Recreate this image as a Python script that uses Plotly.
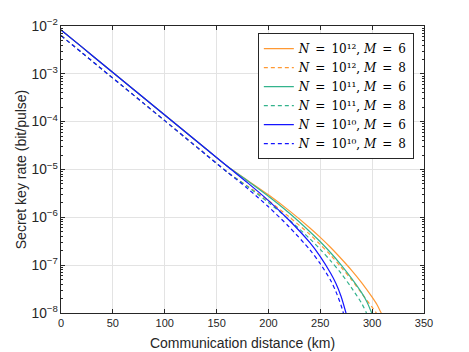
import plotly.graph_objects as go

# distances (km) and secret key rates (bit/pulse)
dist_n12_m6 = [0, 20, 40, 60, 80, 100, 120, 140, 160, 180, 200, 220, 240, 250, 260, 270, 280, 290, 300, 305, 308, 310]
rate_n12_m6 = [8.3e-3, 3.66e-3, 1.61e-3, 7.11e-4, 3.13e-4, 1.38e-4, 6.08e-5, 2.68e-5, 1.18e-5,
               5.9e-6, 2.95e-6, 1.38e-6, 6.0e-7, 3.8e-7, 2.34e-7, 1.38e-7, 7.9e-8, 4.27e-8, 2.14e-8, 1.45e-8, 1.07e-8, 8.9e-9]

dist_n12_m8 = [0, 20, 40, 60, 80, 100, 120, 140, 160, 180, 200, 220, 240, 250, 260, 270, 280, 290, 300, 304, 306]
rate_n12_m8 = [6.31e-3, 2.78e-3, 1.22e-3, 5.40e-4, 2.38e-4, 1.05e-4, 4.61e-5, 2.03e-5, 8.95e-6,
               4.47e-6, 2.24e-6, 1.02e-6, 4.37e-7, 2.69e-7, 1.62e-7, 9.1e-8, 5.0e-8, 2.57e-8, 1.32e-8, 1.0e-8, 8.3e-9]

dist_n11_m6 = [0, 20, 40, 60, 80, 100, 120, 140, 160, 180, 200, 220, 240, 250, 260, 270, 280, 290, 295, 299, 301]
rate_n11_m6 = [8.3e-3, 3.66e-3, 1.61e-3, 7.11e-4, 3.13e-4, 1.38e-4, 6.08e-5, 2.68e-5, 1.18e-5,
               5.75e-6, 2.75e-6, 1.23e-6, 5.0e-7, 3.09e-7, 1.82e-7, 1.02e-7, 5.37e-8, 2.63e-8, 1.70e-8, 1.07e-8, 8.3e-9]

dist_n11_m8 = [0, 20, 40, 60, 80, 100, 120, 140, 160, 180, 200, 220, 240, 250, 260, 270, 280, 290, 294.5, 296]
rate_n11_m8 = [6.31e-3, 2.78e-3, 1.22e-3, 5.40e-4, 2.38e-4, 1.05e-4, 4.61e-5, 2.03e-5, 8.95e-6,
               4.37e-6, 2.04e-6, 8.9e-7, 3.55e-7, 2.14e-7, 1.23e-7, 6.76e-8, 3.39e-8, 1.58e-8, 1.0e-8, 8.3e-9]

dist_n10_m6 = [0, 20, 40, 60, 80, 100, 120, 140, 160, 180, 200, 220, 240, 250, 260, 265, 270, 274.5, 276]
rate_n10_m6 = [8.3e-3, 3.66e-3, 1.61e-3, 7.11e-4, 3.13e-4, 1.38e-4, 6.08e-5, 2.68e-5, 1.18e-5,
               5.25e-6, 2.24e-6, 8.7e-7, 2.95e-7, 1.51e-7, 6.76e-8, 4.17e-8, 2.24e-8, 1.05e-8, 7.9e-9]

dist_n10_m8 = [0, 20, 40, 60, 80, 100, 120, 140, 160, 180, 200, 220, 240, 250, 260, 265, 270, 272, 273.5]
rate_n10_m8 = [6.31e-3, 2.78e-3, 1.22e-3, 5.40e-4, 2.38e-4, 1.05e-4, 4.61e-5, 2.03e-5, 8.95e-6,
               3.98e-6, 1.66e-6, 6.3e-7, 2.09e-7, 1.07e-7, 4.79e-8, 2.82e-8, 1.45e-8, 1.05e-8, 7.9e-9]

ORANGE = "#FF9933"
GREEN = "#33B38C"
BLUE = "#1414FF"
AX = "#262626"

SP = "\u2002"  # en space, wider math-style spacing round "="


def label(n_exp, m):
    return f"<i>N</i>{SP}={SP}10{n_exp}, <i>M</i>{SP}={SP}{m}"


series = [
    (dist_n12_m6, rate_n12_m6, ORANGE, "solid", label("¹²", 6)),
    (dist_n12_m8, rate_n12_m8, ORANGE, "4px,3px", label("¹²", 8)),
    (dist_n11_m6, rate_n11_m6, GREEN, "solid", label("¹¹", 6)),
    (dist_n11_m8, rate_n11_m8, GREEN, "4px,3px", label("¹¹", 8)),
    (dist_n10_m6, rate_n10_m6, BLUE, "solid", label("¹⁰", 6)),
    (dist_n10_m8, rate_n10_m8, BLUE, "4px,3px", label("¹⁰", 8)),
]

fig = go.Figure()
for d, r, c, dash, name in series:
    fig.add_trace(go.Scatter(
        x=d, y=r, mode="lines", name=name,
        line=dict(color=c, width=1.2, dash=dash, shape="spline", smoothing=0.8),
    ))

fig.update_layout(
    width=469, height=352,
    margin=dict(l=61, r=45, t=26, b=39),
    paper_bgcolor="white", plot_bgcolor="white",
    font=dict(family="Liberation Sans, Arial", size=11, color=AX),
    legend=dict(
        x=0.972, y=0.975, xanchor="right", yanchor="top",
        bgcolor="white", bordercolor=AX, borderwidth=1,
        font=dict(family="DejaVu Serif", size=12, color="black"),
        tracegroupgap=0, itemwidth=30,
    ),
)

fig.update_xaxes(
    range=[0, 350], dtick=50, tick0=0, automargin=False,
    showline=True, linecolor=AX, linewidth=1, mirror="ticks",
    ticks="inside", ticklen=4, tickcolor=AX,
    showgrid=True, gridcolor="#E3E3E3", gridwidth=1, zeroline=False,
    title=dict(text="Communication distance (km)", font=dict(size=14), standoff=9),
)
fig.update_yaxes(
    type="log", range=[-8, -2], dtick=1, exponentformat="power", automargin=False,
    showline=True, linecolor=AX, linewidth=1, mirror="ticks",
    ticks="inside", ticklen=4, tickcolor=AX,
    minor=dict(ticks="inside", ticklen=2, tickcolor=AX, showgrid=False),
    showgrid=True, gridcolor="#E3E3E3", gridwidth=1, zeroline=False,
    title=dict(text="Secret key rate (bit/pulse)", font=dict(size=14), standoff=1),
)

# the page body has a default 8px margin; drop it so the figure sits at the window origin
fig.write_html("out.html", config={"displayModeBar": False},
               post_script="document.body.style.margin='0';")
